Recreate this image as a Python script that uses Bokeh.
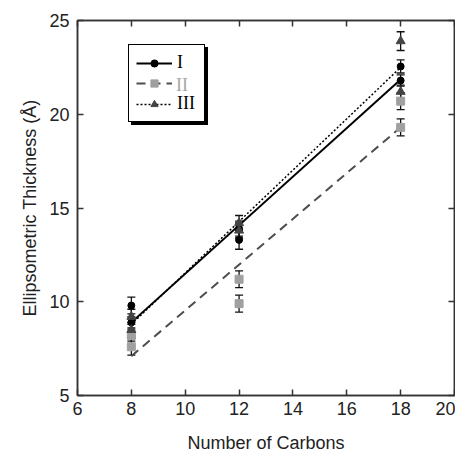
from bokeh.plotting import figure
from bokeh.models import (ColumnDataSource, Whisker, TeeHead, Legend, LegendItem,
                          LinearAxis, FixedTicker, Title)
from bokeh.embed import file_html
from bokeh.resources import INLINE

# ---- data ----
carbons = [8, 8, 12, 12, 18, 18]
thick_I = [9.8, 8.9, 13.9, 13.3, 22.55, 21.8]
err_I = [0.45, 0.3, 0.4, 0.5, 0.35, 0.3]
thick_II = [8.2, 7.6, 11.2, 9.9, 20.7, 19.3]
err_II = [0.3, 0.45, 0.45, 0.45, 0.45, 0.45]
thick_III = [9.2, 8.5, 14.2, 13.8, 23.9, 21.2]
err_III = [0.4, 0.4, 0.4, 0.4, 0.5, 0.35]

fit_x = [8, 18]
fit_I = [8.9, 21.85]
fit_II = [7.1, 19.3]
fit_III = [8.8, 22.5]

x_ticks = [6, 8, 10, 12, 14, 16, 18, 20]
y_ticks = [5, 10, 15, 20, 25]

FONT = "Liberation Sans"
SERIF = "Liberation Serif"

p = figure(width=455, height=452, x_range=(6, 20), y_range=(5, 25),
           output_backend="svg", toolbar_location=None,
           min_border_left=77, min_border_top=20, min_border_right=1,
           min_border_bottom=57, x_axis_location=None, y_axis_location=None)
p.grid.visible = False
p.outline_line_color = "#333333"
p.outline_line_width = 1.5
p.background_fill_color = "white"


def style_axis(ax, labels=True):
    ax.major_tick_in = 6
    ax.major_tick_out = 0
    ax.minor_tick_line_color = None
    ax.axis_line_color = "#333333"
    ax.axis_line_width = 1.5
    ax.major_tick_line_color = "#333333"
    ax.major_tick_line_width = 1.5
    if labels:
        ax.major_label_text_font = FONT
        ax.major_label_text_font_size = "18px"
        ax.major_label_text_color = "#222222"
        ax.axis_label_text_font = FONT
        ax.axis_label_text_font_size = "18px"
        ax.axis_label_text_font_style = "normal"
        ax.axis_label_text_color = "#222222"
    else:
        ax.major_label_text_font_size = "0px"
        ax.major_label_standoff = 0


xb = LinearAxis(ticker=FixedTicker(ticks=x_ticks))
style_axis(xb)
xb.major_label_standoff = 6
p.add_layout(xb, "below")

yl = LinearAxis(ticker=FixedTicker(ticks=y_ticks), axis_label="Ellipsometric Thickness (Å)")
style_axis(yl)
yl.major_label_standoff = 8
yl.axis_label_standoff = 6
p.add_layout(yl, "left")

xt = LinearAxis(ticker=FixedTicker(ticks=x_ticks))
style_axis(xt, labels=False)
p.add_layout(xt, "above")
yr = LinearAxis(ticker=FixedTicker(ticks=y_ticks))
style_axis(yr, labels=False)
p.add_layout(yr, "right")

# spacer + x-axis title as below-panel titles
p.add_layout(Title(text=" ", standoff=0, text_font_size="10px"), "below")
p.add_layout(Title(text="Number of Carbons", align="center", standoff=0,
                   text_font=FONT, text_font_size="18px",
                   text_font_style="normal", text_color="#222222"), "below")

# fit lines
lI = p.line(fit_x, fit_I, line_color="black", line_width=2)
lII = p.line(fit_x, fit_II, line_color="#4d4d4d", line_width=2, line_dash="9 6")
lIII = p.line(fit_x, fit_III, line_color="black", line_width=1.5, line_dash="2 2")

# error bars + markers
series = [
    (thick_I, err_I, "black", "circle", 7),
    (thick_II, err_II, "#a0a0a0", "square", 8),
    (thick_III, err_III, "#444444", "triangle", 9),
]
marks = []
for ys, es, col, mk, sz in series:
    src = ColumnDataSource(dict(x=carbons, y=ys,
                                lo=[a - b for a, b in zip(ys, es)],
                                hi=[a + b for a, b in zip(ys, es)]))
    w = Whisker(source=src, base="x", lower="lo", upper="hi",
                line_color="#111111", line_width=1.3,
                upper_head=TeeHead(size=8, line_color="#111111", line_width=1.3),
                lower_head=TeeHead(size=8, line_color="#111111", line_width=1.3))
    p.add_layout(w)
    r = p.scatter("x", "y", source=src, marker=mk, size=sz,
                  fill_color=col, line_color=col)
    marks.append(r)

# invisible renderer used for legend layers that must not redraw glyphs
ghost = p.line(x=[], y=[], line_alpha=0)


def make_legend(labels, loc, rends, text_color="black", bg="white", bg_alpha=1.0,
                border_alpha=1.0, border_color="black"):
    items = [LegendItem(label=labels[i], renderers=rends[i]) for i in range(3)]
    lg = Legend(items=items, location=loc, orientation="vertical",
                glyph_width=36, glyph_height=18, label_height=18,
                spacing=1, padding=7, margin=0, label_standoff=5,
                label_text_font=SERIF, label_text_font_size="18px",
                label_text_color=text_color,
                background_fill_color=bg, background_fill_alpha=bg_alpha,
                border_line_color=border_color, border_line_alpha=border_alpha,
                border_line_width=1.2)
    return lg


lx, ly = 51, 273
ghosts = [[ghost], [ghost], [ghost]]
real = [[lI, marks[0]], [lII, marks[1]], [lIII, marks[2]]]
shadow = make_legend(["I", " ", "III"], (lx + 3, ly - 3), ghosts, bg="black")
main = make_legend(["I", " ", "III"], (lx, ly), real)
grey = make_legend([" ", "II", " "], (lx, ly), ghosts, text_color="#a8a8a8",
                   bg_alpha=0.0, border_alpha=0.0)
p.add_layout(shadow)
p.add_layout(main)
p.add_layout(grey)

open("out.html", "w").write(file_html(p, INLINE))
